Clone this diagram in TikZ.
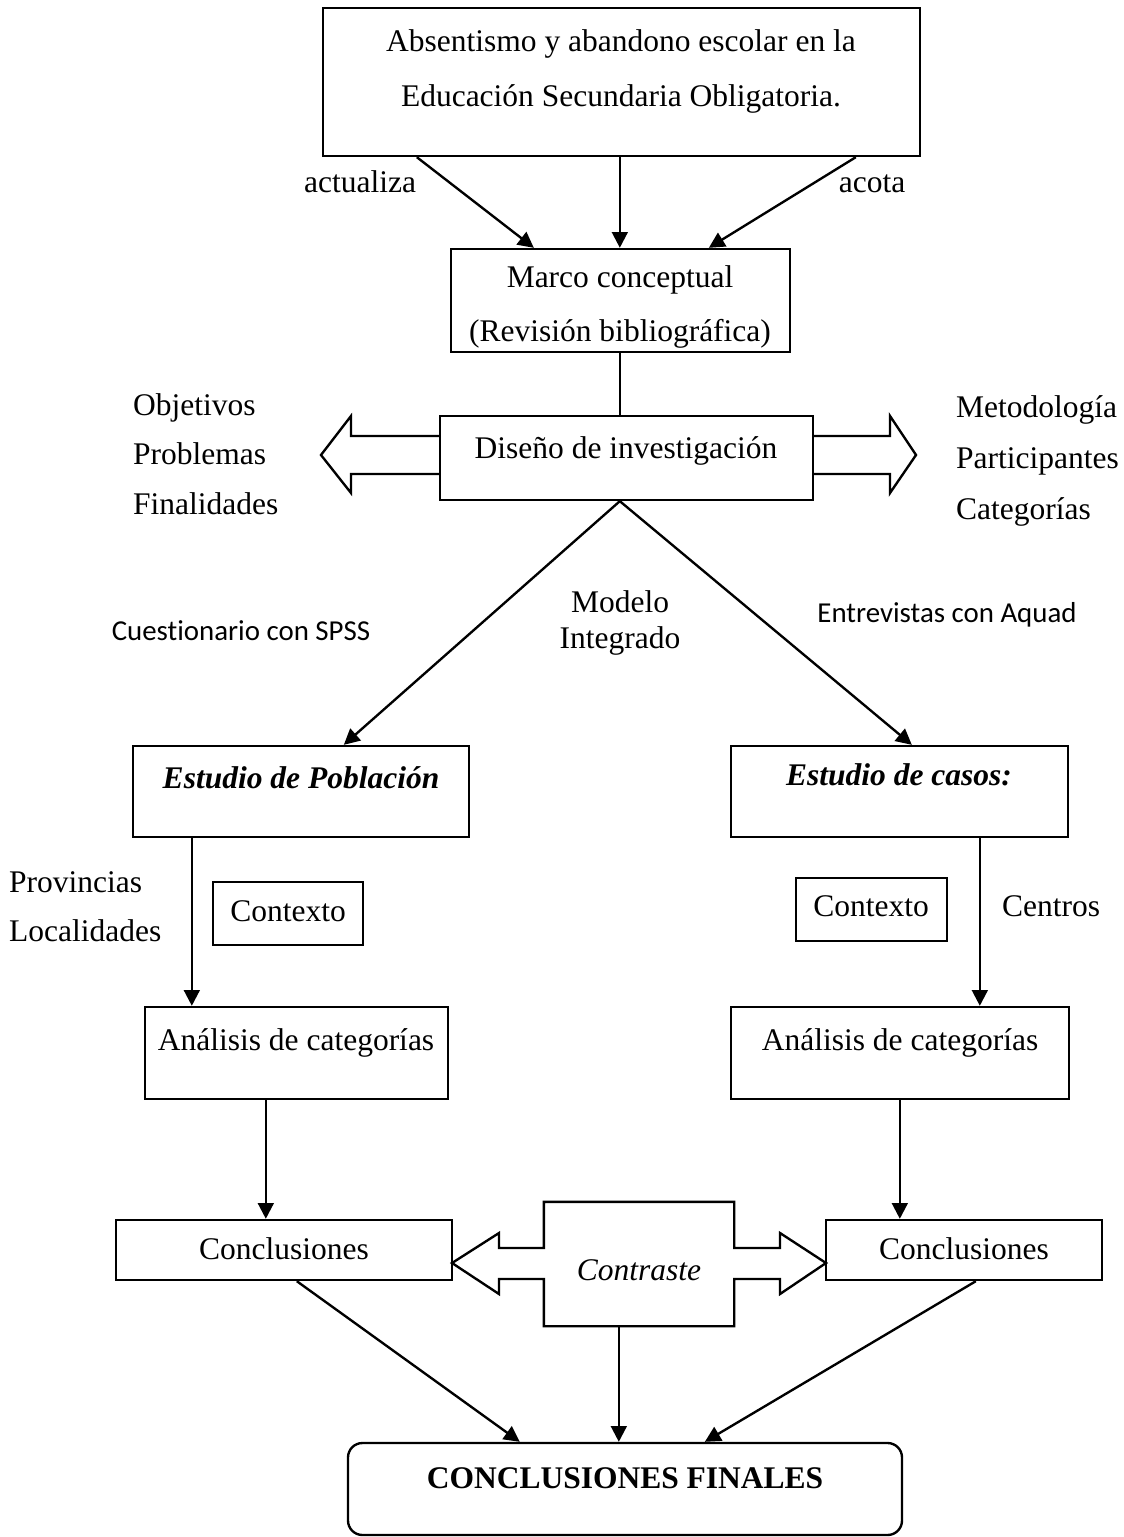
\documentclass[tikz,border=0pt]{standalone}
\usepackage{fontspec}
\setmainfont{Liberation Serif}
\newfontfamily\calibrisans[Ligatures={NoCommon}]{Carlito}
\usetikzlibrary{arrows.meta,calc,fit}
\begin{document}
\begin{tikzpicture}[x=0.38095pt,y=-0.38095pt,
  line width=0.9pt,
  box/.style={draw, inner sep=0pt},
  ghost/.style={inner sep=0pt},
  txt/.style={inner sep=0pt, anchor=base, font=\fontsize{12}{14}\selectfont},
  txtl/.style={txt, anchor=base west},
  sans/.style={inner sep=0pt, anchor=base, font=\calibrisans\fontsize{11}{13}\selectfont},
  arr/.style={-{Triangle[length=6pt,width=6pt]}},
  fat/.style={line join=miter},
]
\useasboundingbox (0,0) rectangle (1123,1537);

% ---------- boxes ----------
\node[box, fit={(323,8) (920,156)}] (top) {};
\node[box, fit={(451,249) (790,352)}] (marco) {};
\node[box, fit={(440,416) (813,500)}] (diseno) {};
\node[box, fit={(133,746) (469,837)}] (pob) {};
\node[box, fit={(731,746) (1068,837)}] (casos) {};
\node[box, fit={(213,882) (363,945)}] (ctx1) {};
\node[box, fit={(796,878) (947,941)}] (ctx2) {};
\node[box, fit={(145,1007) (448,1099)}] (ana1) {};
\node[box, fit={(731,1007) (1069,1099)}] (ana2) {};
\node[box, fit={(116,1220) (452,1280)}] (conc1) {};
\node[box, fit={(826,1220) (1102,1280)}] (conc2) {};
\node[box, rounded corners=5.5pt, fit={(348,1443) (902,1535)}] (fin) {};
\node[ghost, fit={(545,1203) (733,1325)}] (contraste) {};

% ---------- block arrows beside the research design ----------
\draw[fat] (diseno.west |- 0,436) -- (351,436) -- (351,416) -- (321,455)
  -- (351,493) -- (351,474) -- (diseno.west |- 0,474);
\draw[fat] (diseno.east |- 0,436) -- (890,436) -- (890,416) -- (916,455)
  -- (890,493) -- (890,474) -- (diseno.east |- 0,474);

% ---------- double block arrow of the comparison ----------
\draw[fat] (452,1263) -- (499,1233) -- (499,1248) -- (contraste.west |- 0,1248)
  -- (contraste.north west) -- (contraste.north east) -- (contraste.east |- 0,1248)
  -- (780,1248) -- (780,1233) -- (826,1263) -- (780,1294) -- (780,1279)
  -- (contraste.east |- 0,1279) -- (contraste.south east) -- (contraste.south west)
  -- (contraste.west |- 0,1279) -- (499,1279) -- (499,1294) -- cycle;

% ---------- texts ----------
\node[txt] (t1) at (621,52) {Absentismo y abandono escolar en la};
\node[txt] (t2) at (621,107) {Educación Secundaria Obligatoria.};
\node[txt] (lact) at (360,193) {actualiza};
\node[txt] (lacota) at (872,193) {acota};
\node[txt] (m1) at (620,288) {Marco conceptual};
\node[txt] (m2) at (620,342) {(Revisión bibliográfica)};
\node[txt] (d1) at (626,459) {Diseño de investigación};
\node[txtl] (obj) at (132,416) {Objetivos};
\node[txtl] (prob) at (132,465) {Problemas};
\node[txtl] (fina) at (132,515) {Finalidades};
\node[txtl] (met) at (955,418) {Metodología};
\node[txtl] (part) at (955,469) {Participantes};
\node[txtl] (cat) at (955,520) {Categorías};
\node[sans] (spss) at (241,640) {Cuestionario con SPSS};
\node[txt] (mod1) at (620,612) {Modelo};
\node[txt] (mod2) at (620,648) {Integrado};
\node[sans] (aquad) at (947,622) {Entrevistas con Aquad};
\node[txt, font=\fontsize{12}{14}\selectfont\bfseries\itshape] (p1) at (301,788) {Estudio de Población};
\node[txt, font=\fontsize{12}{14}\selectfont\bfseries\itshape] (c1) at (899,785) {Estudio de casos:};
\node[txt] (x1) at (288,921) {Contexto};
\node[txt] (x2) at (871,916) {Contexto};
\node[txtl] (prov) at (8,892) {Provincias};
\node[txtl] (loc) at (8,941) {Localidades};
\node[txtl] (cent) at (1001,916) {Centros};
\node[txt] (a1) at (296,1050) {Análisis de categorías};
\node[txt] (a2) at (900,1050) {Análisis de categorías};
\node[txt] (k1) at (284,1259) {Conclusiones};
\node[txt] (k2) at (964,1259) {Conclusiones};
\node[txt, font=\fontsize{12}{14}\selectfont\itshape] (ctr) at (639,1280) {Contraste};
\node[txt, font=\fontsize{12}{14}\selectfont\bfseries] (f1) at (625,1488) {CONCLUSIONES FINALES};

% ---------- connectors ----------
\draw[arr] ($(top.south west)+(95,0)$) -- ($(marco.north west)+(84,0)$);
\draw[arr] ($(top.south west)+(298,0)$) -- ($(marco.north west)+(170,0)$);
\draw[arr] ($(top.south west)+(534,0)$) -- ($(marco.north west)+(259,0)$);
\draw ($(marco.south west)+(170,0)$) -- ($(diseno.north west)+(181,0)$);
\draw[arr] ($(diseno.south west)+(181,0)$) -- ($(pob.north west)+(212,0)$);
\draw[arr] ($(diseno.south west)+(181,0)$) -- ($(casos.north west)+(182,0)$);
\draw[arr] ($(pob.south west)+(60,0)$) -- ($(ana1.north west)+(48,0)$);
\draw[arr] ($(casos.south west)+(250,0)$) -- ($(ana2.north west)+(250,0)$);
\draw[arr] ($(ana1.south west)+(122,0)$) -- ($(conc1.north west)+(151,0)$);
\draw[arr] ($(ana2.south west)+(170,0)$) -- ($(conc2.north west)+(75,0)$);
\draw[arr] ($(conc1.south west)+(182,0)$) -- ($(fin.north west)+(173,0)$);
\draw[arr] ($(contraste.south west)+(75,0)$) -- ($(fin.north west)+(272,0)$);
\draw[arr] ($(conc2.south west)+(151,0)$) -- ($(fin.north west)+(358,0)$);
\end{tikzpicture}
\end{document}
